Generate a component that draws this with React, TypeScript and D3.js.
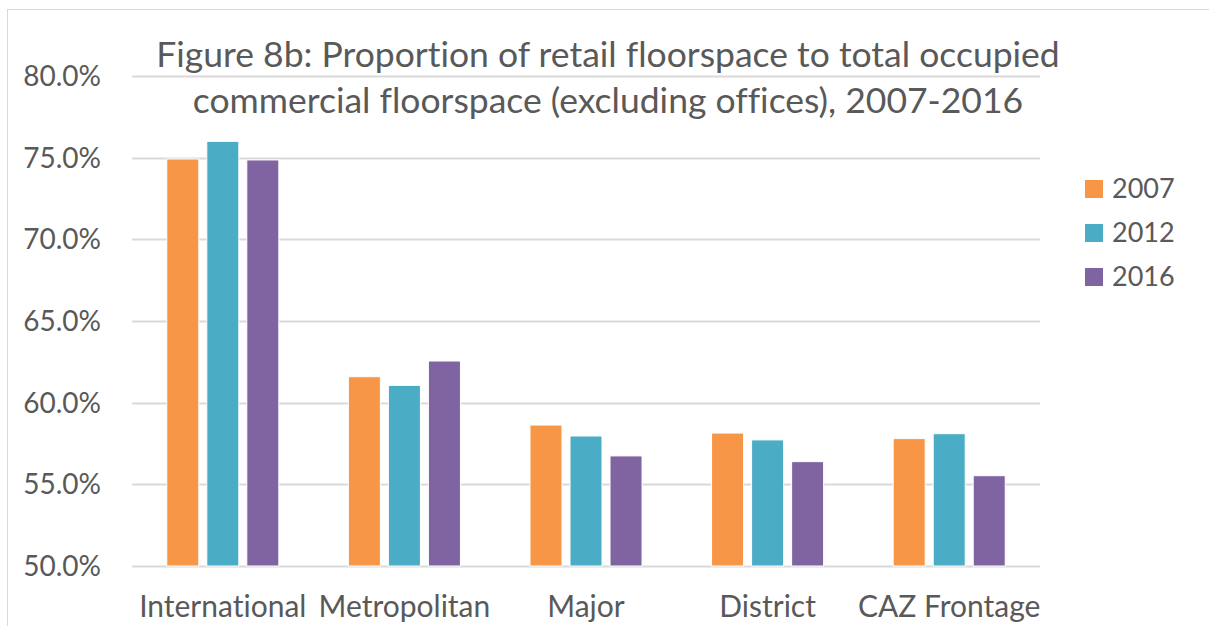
import * as d3 from "d3";
import React, {useEffect, useRef} from "react";

const categories = ["International", "Metropolitan", "Major", "District", "CAZ Frontage"];
const years = ["2007", "2012", "2016"];
const values2007 = [74.92, 61.59, 58.63, 58.14, 57.8];
const values2012 = [76.0, 61.06, 57.96, 57.72, 58.1];
const values2016 = [74.86, 62.55, 56.74, 56.39, 55.53];
const yTicks = [50, 55, 60, 65, 70, 75, 80];
const titleLines = [
    "Figure 8b: Proportion of retail floorspace to total occupied",
    "commercial floorspace (excluding offices), 2007-2016",
];
const colors = ["#F79646", "#4BACC6", "#8064A2"];

const W = 1209, H = 626;
const margin = {top: 76, left: 132, right: 169, bottom: 60};
const FONT = "Lato, 'Open Sans', sans-serif";
const TEXT = "#595959";

const App = () => {
    const ref = useRef(null);

    useEffect(() => {
        const series = [values2007, values2012, values2016];
        const width = W - margin.left - margin.right;
        const height = H - margin.top - margin.bottom;

        const root = d3.select(ref.current);
        root.selectAll("*").remove();
        const svg = root.append("svg")
            .attr("width", W)
            .attr("height", H)
            .style("display", "block")
            .style("position", "absolute")
            .style("left", 0)
            .style("top", 0)
            .style("background", "#fff")
            .style("font-variant-ligatures", "none");

        // chart border
        svg.append("rect")
            .attr("x", 7.5).attr("y", 9.5)
            .attr("width", W + 20).attr("height", H + 20)
            .attr("fill", "none")
            .attr("stroke", "#D9D9D9");

        const g = svg.append("g")
            .attr("transform", `translate(${margin.left},${margin.top})`);

        const y = d3.scaleLinear().domain([50, 80]).range([height, 0]);
        const x0 = d3.scaleBand()
            .domain(categories)
            .range([0, width])
            .paddingInner(0.383)
            .paddingOuter(0.1915);
        const x1 = d3.scaleBand()
            .domain(years)
            .range([0, x0.bandwidth()])
            .paddingInner(0.2)
            .paddingOuter(0);

        // gridlines
        g.append("g")
            .selectAll("line")
            .data(yTicks)
            .join("line")
            .attr("x1", 0).attr("x2", width)
            .attr("y1", d => Math.round(y(d)) + 0.5)
            .attr("y2", d => Math.round(y(d)) + 0.5)
            .attr("stroke", "#D9D9D9")
            .attr("stroke-width", 2);

        // y labels
        g.append("g")
            .selectAll("text")
            .data(yTicks)
            .join("text")
            .attr("x", -31)
            .attr("y", d => y(d))
            .attr("dy", "0.36em")
            .attr("text-anchor", "end")
            .attr("font-family", FONT)
            .attr("font-size", 28)
            .attr("fill", TEXT)
            .text(d => d3.format(".1f")(d) + "%");

        // bars
        const groups = g.append("g")
            .selectAll("g")
            .data(categories)
            .join("g")
            .attr("transform", d => `translate(${x0(d)},0)`);

        groups.selectAll("rect")
            .data((d, i) => years.map((yr, j) => ({yr, v: series[j][i], c: colors[j]})))
            .join("rect")
            .attr("x", d => x1(d.yr))
            .attr("y", d => y(d.v))
            .attr("width", x1.bandwidth())
            .attr("height", d => y(50) - y(d.v))
            .attr("fill", d => d.c)
            .attr("stroke", "#fff")
            .attr("stroke-width", 1);

        // category labels
        g.append("g")
            .selectAll("text")
            .data(categories)
            .join("text")
            .attr("x", d => x0(d) + x0.bandwidth() / 2)
            .attr("y", height + 51)
            .attr("text-anchor", "middle")
            .attr("font-family", FONT)
            .attr("font-size", 30)
            .attr("fill", TEXT)
            .text(d => d);

        // title
        svg.append("g")
            .selectAll("text")
            .data(titleLines)
            .join("text")
            .attr("x", 608)
            .attr("y", (d, i) => 67 + i * 46)
            .attr("text-anchor", "middle")
            .attr("font-family", FONT)
            .attr("font-size", 35.5)
            .attr("fill", TEXT)
            .text(d => d);

        // legend
        const legend = svg.append("g")
            .selectAll("g")
            .data(years)
            .join("g")
            .attr("transform", (d, i) => `translate(1085,${180 + i * 44})`);
        legend.append("rect")
            .attr("width", 18).attr("height", 18)
            .attr("fill", (d, i) => colors[i]);
        legend.append("text")
            .attr("x", 27)
            .attr("y", 18)
            .attr("font-family", FONT)
            .attr("font-size", 27)
            .attr("fill", TEXT)
            .text(d => d);
    }, []);

    return <div ref={ref}></div>;
};

export default App;
